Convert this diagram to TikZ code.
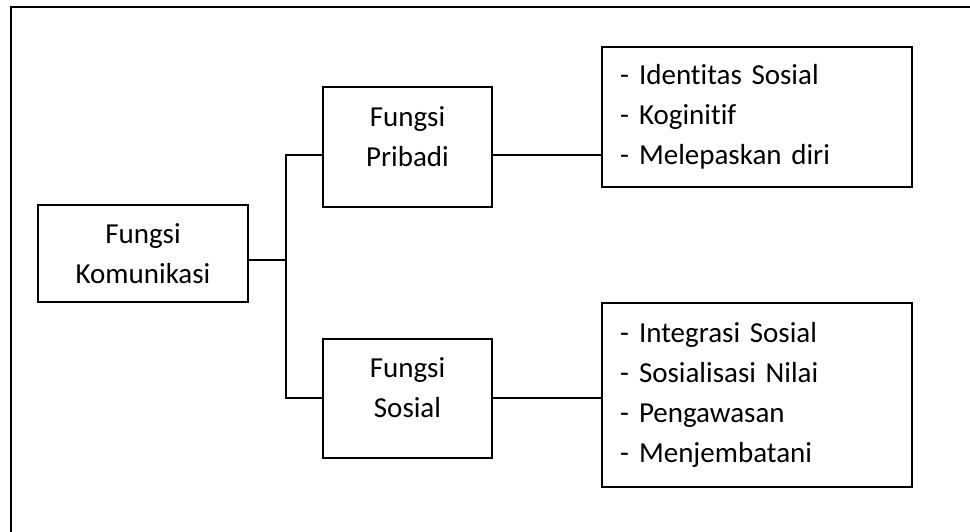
\documentclass[tikz,border=0pt]{standalone}
\usepackage{fontspec}
\setmainfont{Carlito}[Ligatures=NoCommon]
\usetikzlibrary{positioning}

\begin{document}
\begin{tikzpicture}[x=1pt, y=-1pt, font=\fontsize{29}{40}\selectfont,
    box/.style={draw, line width=1.2pt, align=center, inner sep=0pt},
    raised/.style={text depth=21pt},
    list/.style={draw, line width=1.2pt, align=left, inner xsep=18pt, inner ysep=0pt, text width=274pt},
    link/.style={line width=2pt},
    thinlink/.style={line width=1.3pt}]
  \useasboundingbox (0,0) rectangle (970,532);
  % outer frame, cut off at the page edge
  \begin{scope}
    \clip (0,0) rectangle (970,532);
    \draw[line width=1.2pt] (11,7) rectangle (990,560);
  \end{scope}
  % boxes
  \node[box, minimum width=210pt, minimum height=97pt] (kom) at (143,253.5) {Fungsi\\Komunikasi};
  \node[box, raised, minimum width=169pt, minimum height=120pt] (pribadi) at (407.5,147) {Fungsi\\Pribadi};
  \node[box, raised, minimum width=169pt, minimum height=119pt] (sosial) at (407.5,398.5) {Fungsi\\Sosial};
  \node[list, minimum height=140pt] (pribadilist) at (757,117)
    {-\hspace{0.35em}Identitas Sosial\\-\hspace{0.35em}Koginitif\\-\hspace{0.35em}Melepaskan diri};
  \node[list, minimum height=184pt] (sosiallist) at (757,395)
    {-\hspace{0.35em}Integrasi Sosial\\-\hspace{0.35em}Sosialisasi Nilai\\-\hspace{0.35em}Pengawasan\\-\hspace{0.35em}Menjembatani};
  % connectors
  \coordinate (jk) at (286,260);
  \coordinate (jt) at (286,155);
  \coordinate (jb) at (286,398);
  \draw[link] (kom.east |- jk) -- (jk);
  \draw[link] (pribadi.west |- jt) -- (jt) -- (jb) -- (sosial.west |- jb);
  \draw[thinlink] (pribadi.east |- jt) -- (pribadilist.west |- jt);
  \draw[thinlink] (sosial.east |- jb) -- (sosiallist.west |- jb);
\end{tikzpicture}
\end{document}
